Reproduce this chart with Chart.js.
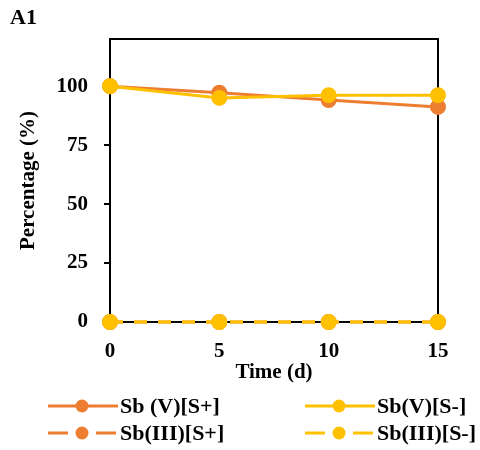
<!DOCTYPE html>
<html>
<head>
<meta charset="utf-8">
<script src="https://cdn.jsdelivr.net/npm/chart.js@4"></script>
<style>
  body{margin:0;background:#fff;}
  #wrap{position:relative;width:480px;height:450px;}
  #tag{position:absolute;left:10px;top:4px;font:bold 22px "Liberation Serif",serif;color:#000;}
</style>
</head>
<body>
<div id="wrap">
  <canvas id="chart1" width="480" height="450"></canvas>
  <div id="tag">A1</div>
</div>
<script>
/* DATA */
const days=[0,5,10,15];
const sbV_Splus=[100,97.2,94.1,91.2];
const sbV_Sminus=[100,95.0,96.2,96.2];
const sbIII_Splus=[0,0,0,0];
const sbIII_Sminus=[0,0,0,0];
const yTicks=[0,25,50,75,100];
const xTicks=[0,5,10,15];

const ORANGE="#ED7D31";
const YELLOW="#FFC000";
const FONT="'Liberation Serif','Times New Roman',serif";

function pts(vals){
  return days.map((d,i)=>({x:d,y:vals[i]}));
}

function series(label,vals,color,dashed,order){
  return {
    label:label,
    data:pts(vals),
    borderColor:color,
    backgroundColor:color,
    pointBackgroundColor:color,
    pointBorderColor:color,
    borderWidth:3,
    pointRadius:6.5,
    pointHoverRadius:6.5,
    borderDash:dashed?[13,11]:[],
    clip:false,
    order:order,
    dashed:dashed
  };
}

/* FRAME (top + right border) */
const framePlugin={
  id:"frame",
  beforeDatasetsDraw(chart){
    const {ctx,chartArea:a}=chart;
    ctx.save();
    ctx.strokeStyle="#000";
    ctx.lineWidth=2;
    ctx.beginPath();
    ctx.moveTo(a.left,a.top);
    ctx.lineTo(a.right,a.top);
    ctx.lineTo(a.right,a.bottom);
    ctx.stroke();
    ctx.restore();
  }
};

/* LEGEND (line + marker, two columns) */
const legendPlugin={
  id:"lineLegend",
  afterDraw(chart,args,opts){
    const ctx=chart.ctx;
    const ds=chart.data.datasets;
    opts.items.forEach(it=>{
      const d=ds[it.index];
      const x0=it.x, y=it.y;
      ctx.save();
      ctx.strokeStyle=d.borderColor;
      ctx.lineWidth=3;
      ctx.setLineDash(d.dashed?[20,28]:[]);
      ctx.beginPath();
      ctx.moveTo(x0,y);
      ctx.lineTo(x0+70,y);
      ctx.stroke();
      ctx.setLineDash([]);
      ctx.fillStyle=d.borderColor;
      ctx.beginPath();
      ctx.arc(x0+34,y,6.5,0,Math.PI*2);
      ctx.fill();
      ctx.fillStyle="#000";
      ctx.font="bold 22px "+FONT;
      ctx.textBaseline="middle";
      ctx.fillText(d.label,x0+72,y+1);
      ctx.restore();
    });
  }
};

new Chart(chart1,{
  type:"line",
  data:{
    datasets:[
      series("Sb (V)[S+]",sbV_Splus,ORANGE,false,3),
      series("Sb(V)[S-]",sbV_Sminus,YELLOW,false,2),
      series("Sb(III)[S+]",sbIII_Splus,ORANGE,true,1),
      series("Sb(III)[S-]",sbIII_Sminus,YELLOW,true,0)
    ]
  },
  options:{
    responsive:false,
    animation:false,
    events:[],
    layout:{padding:{left:16,top:39,right:42,bottom:65}},
    plugins:{
      legend:{display:false},
      tooltip:{enabled:false},
      lineLegend:{
        items:[
          {index:0,x:48,y:406},
          {index:1,x:305,y:406},
          {index:2,x:48,y:433},
          {index:3,x:305,y:433}
        ]
      }
    },
    scales:{
      x:{
        type:"linear",
        min:0,max:15,
        afterBuildTicks(s){s.ticks=xTicks.map(v=>({value:v}));},
        afterFit(s){s.height=63;},
        grid:{display:false},
        border:{display:true,color:"#000",width:2},
        ticks:{color:"#000",padding:9,font:{family:FONT,size:21,weight:"bold"}},
        title:{display:true,text:"Time (d)",color:"#000",padding:0,font:{family:FONT,size:21,weight:"bold"}}
      },
      y:{
        min:0,max:120,
        afterBuildTicks(s){s.ticks=yTicks.map(v=>({value:v}));},
        afterFit(s){s.width=94;},
        grid:{display:true,drawOnChartArea:false,drawTicks:true,tickLength:6,color:"#000",lineWidth:2},
        border:{display:true,color:"#000",width:2},
        ticks:{color:"#000",padding:16,font:{family:FONT,size:21,weight:"bold"}},
        title:{display:true,text:"Percentage (%)",color:"#000",padding:0,font:{family:FONT,size:21,weight:"bold"}}
      }
    }
  },
  plugins:[framePlugin,legendPlugin]
});
</script>
</body>
</html>
